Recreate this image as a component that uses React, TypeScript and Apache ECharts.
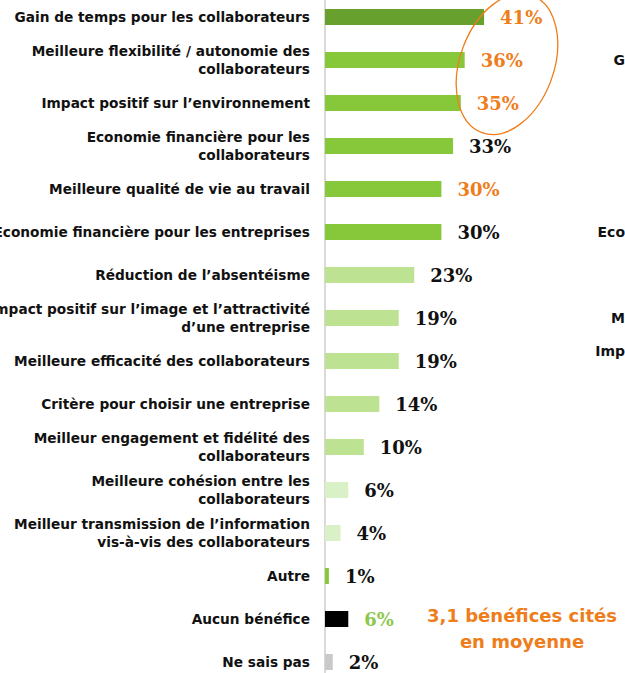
import React, { useEffect, useRef } from "react";
import * as echarts from "echarts";

const categories = [
  "Gain de temps pour les collaborateurs",
  "Meilleure flexibilité / autonomie des\ncollaborateurs",
  "Impact positif sur l’environnement",
  "Economie financière pour les\ncollaborateurs",
  "Meilleure qualité de vie au travail",
  "Economie financière pour les entreprises",
  "Réduction de l’absentéisme",
  "Impact positif sur l’image et l’attractivité\nd’une entreprise",
  "Meilleure efficacité des collaborateurs",
  "Critère pour choisir une entreprise",
  "Meilleur engagement et fidélité des\ncollaborateurs",
  "Meilleure cohésion entre les\ncollaborateurs",
  "Meilleur transmission de l’information\nvis-à-vis des collaborateurs",
  "Autre",
  "Aucun bénéfice",
  "Ne sais pas",
];
const values = [41, 36, 35, 33, 30, 30, 23, 19, 19, 14, 10, 6, 4, 1, 6, 2];
const barColors = [
  "#68A02E", "#86C83A", "#86C83A", "#86C83A", "#86C83A", "#86C83A",
  "#BDE291", "#BDE291", "#BDE291", "#BDE291", "#BDE291",
  "#DAF0C6", "#DAF0C6", "#86C83A", "#000000", "#C9C9C9",
];
const labelColors = [
  "#EE7D1A", "#EE7D1A", "#EE7D1A", "#111111", "#EE7D1A", "#111111",
  "#111111", "#111111", "#111111", "#111111", "#111111",
  "#111111", "#111111", "#111111", "#8CC84B", "#111111",
];
const noteLines = ["3,1 bénéfices cités", "en moyenne"];
const sideTexts = [
  { text: "G", x: 625, y: 60 },
  { text: "Eco", x: 625, y: 232 },
  { text: "M", x: 625, y: 318 },
  { text: "Imp", x: 625, y: 351 },
];

export default function App() {
  const ref = useRef<HTMLDivElement>(null);
  useEffect(() => {
    if (!ref.current) return;
    const chart = echarts.init(ref.current, null, { renderer: "svg" });
    const sans = "'DejaVu Sans', sans-serif";
    chart.setOption({
      animation: false,
      grid: {
        left: 325,
        top: -4.5,
        height: 688,
        right: 28.4,
        containLabel: false,
        outerBoundsMode: "none",
      },
      xAxis: { type: "value", min: 0, max: 70, show: false },
      yAxis: {
        type: "category",
        inverse: true,
        data: categories,
        axisLine: { show: true, lineStyle: { color: "#D9D9D9", width: 2 } },
        axisTick: { show: false },
        axisLabel: {
          margin: 15,
          color: "#111",
          fontFamily: sans,
          fontWeight: "bold",
          fontSize: 13.7,
          lineHeight: 18,
          align: "right",
          hideOverlap: false,
        },
      },
      series: [
        {
          type: "bar",
          barWidth: 16,
          data: values.map((v, i) => ({
            value: v,
            itemStyle: { color: barColors[i] },
            label: { color: labelColors[i] },
          })),
          label: {
            show: true,
            position: "right",
            distance: 16,
            formatter: "{c}%",
            fontFamily: "'DejaVu Serif', serif",
            fontWeight: "bold",
            fontSize: 18,
          },
        },
      ],
      graphic: [
        {
          type: "ellipse",
          x: 507,
          y: 64,
          rotation: -0.35,
          shape: { cx: 0, cy: 0, rx: 47, ry: 73 },
          style: { fill: "none", stroke: "#EE7D1A", lineWidth: 1.3 },
          z: 10,
        },
        ...noteLines.map((t, i) => ({
          type: "text",
          x: 522,
          y: 615 + i * 26,
          style: {
            text: t,
            fill: "#EE7D1A",
            font: `bold 18px ${sans}`,
            textAlign: "center",
            textVerticalAlign: "middle",
          },
        })),
        ...sideTexts.map((s) => ({
          type: "text",
          x: s.x,
          y: s.y,
          style: {
            text: s.text,
            fill: "#111",
            font: `bold 14px ${sans}`,
            textAlign: "right",
            textVerticalAlign: "middle",
          },
        })),
      ],
    });
    return () => chart.dispose();
  }, []);
  return <div ref={ref} style={{ width: 625, height: 673, position: "absolute", left: 0, top: 0 }} />;
}
